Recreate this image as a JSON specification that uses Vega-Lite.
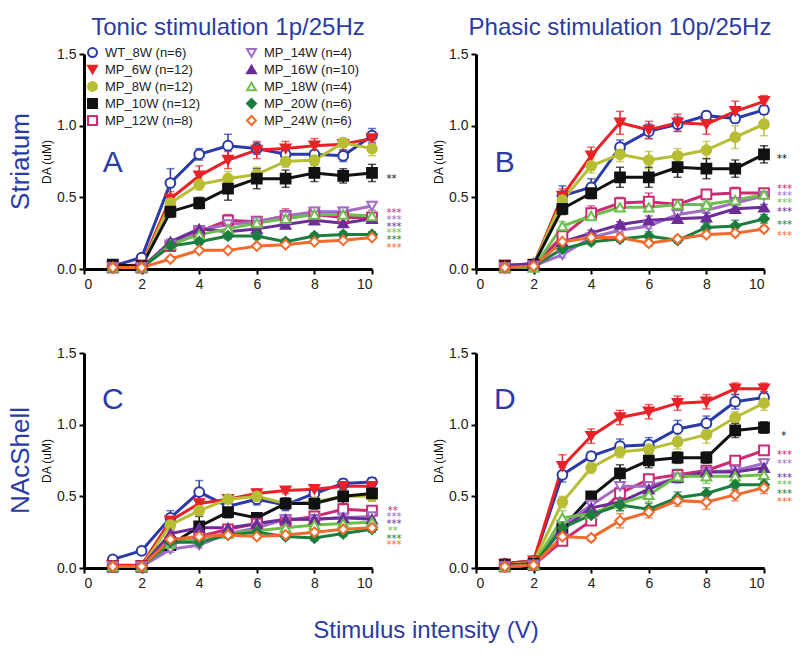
{
  "$schema": "https://vega.github.io/schema/vega-lite/v6.json",
  "background": "white",
  "padding": {"left": 7, "top": 16, "right": 5, "bottom": 5},
  "data": {"values": [
    {"k":"d","r":"S","c":"T","g":"WT_8W (n=6)","x":[1,2,3,4,5,6,7,8,9,10],"y":[0.02,0.08,0.60,0.80,0.86,0.84,0.80,0.80,0.79,0.93],"lo":[0.01,0.06,0.50,0.76,0.78,0.80,0.75,0.74,0.75,0.88],"hi":[0.03,0.10,0.70,0.84,0.94,0.88,0.85,0.86,0.83,0.98]},
    {"k":"d","r":"S","c":"T","g":"MP_6W (n=12)","x":[1,2,3,4,5,6,7,8,9,10],"y":[0.02,0.03,0.49,0.65,0.76,0.83,0.84,0.86,0.87,0.91],"lo":[0.01,0.02,0.44,0.58,0.70,0.77,0.79,0.81,0.83,0.87],"hi":[0.03,0.04,0.54,0.72,0.82,0.89,0.89,0.91,0.91,0.95]},
    {"k":"d","r":"S","c":"T","g":"MP_8W (n=12)","x":[1,2,3,4,5,6,7,8,9,10],"y":[0.01,0.02,0.46,0.59,0.63,0.66,0.75,0.76,0.88,0.84],"lo":[0.00,0.01,0.41,0.55,0.58,0.61,0.71,0.72,0.85,0.79],"hi":[0.02,0.03,0.51,0.63,0.68,0.71,0.79,0.80,0.91,0.89]},
    {"k":"d","r":"S","c":"T","g":"MP_10W (n=12)","x":[1,2,3,4,5,6,7,8,9,10],"y":[0.03,0.02,0.40,0.46,0.56,0.63,0.63,0.67,0.65,0.67],"lo":[0.02,0.01,0.36,0.42,0.48,0.56,0.57,0.61,0.60,0.61],"hi":[0.04,0.03,0.44,0.50,0.64,0.70,0.69,0.73,0.70,0.73]},
    {"k":"d","r":"S","c":"T","g":"MP_12W (n=8)","x":[1,2,3,4,5,6,7,8,9,10],"y":[0.01,0.01,0.16,0.26,0.34,0.33,0.37,0.38,0.36,0.36],"lo":[0.00,0.00,0.14,0.23,0.30,0.30,0.32,0.34,0.33,0.33],"hi":[0.02,0.02,0.18,0.29,0.38,0.36,0.42,0.42,0.39,0.39]},
    {"k":"d","r":"S","c":"T","g":"MP_14W (n=4)","x":[1,2,3,4,5,6,7,8,9,10],"y":[0.01,0.01,0.17,0.27,0.31,0.33,0.37,0.40,0.40,0.44],"lo":[0.00,0.00,0.15,0.24,0.28,0.30,0.34,0.37,0.37,0.41],"hi":[0.02,0.02,0.19,0.30,0.34,0.36,0.40,0.43,0.43,0.47]},
    {"k":"d","r":"S","c":"T","g":"MP_16W (n=10)","x":[1,2,3,4,5,6,7,8,9,10],"y":[0.01,0.01,0.19,0.28,0.26,0.28,0.31,0.34,0.32,0.35],"lo":[0.00,0.00,0.17,0.26,0.24,0.26,0.29,0.32,0.30,0.33],"hi":[0.02,0.02,0.21,0.30,0.28,0.30,0.33,0.36,0.34,0.37]},
    {"k":"d","r":"S","c":"T","g":"MP_18W (n=4)","x":[1,2,3,4,5,6,7,8,9,10],"y":[0.01,0.01,0.17,0.24,0.28,0.32,0.35,0.38,0.38,0.37],"lo":[0.00,0.00,0.15,0.21,0.25,0.29,0.32,0.36,0.36,0.35],"hi":[0.02,0.02,0.19,0.27,0.31,0.35,0.38,0.40,0.40,0.39]},
    {"k":"d","r":"S","c":"T","g":"MP_20W (n=6)","x":[1,2,3,4,5,6,7,8,9,10],"y":[0.01,0.01,0.16,0.19,0.23,0.23,0.19,0.23,0.24,0.24],"lo":[0.00,0.00,0.14,0.17,0.21,0.21,0.17,0.21,0.22,0.22],"hi":[0.02,0.02,0.18,0.21,0.25,0.25,0.21,0.25,0.26,0.26]},
    {"k":"d","r":"S","c":"T","g":"MP_24W (n=6)","x":[1,2,3,4,5,6,7,8,9,10],"y":[0.01,0.01,0.07,0.13,0.13,0.16,0.17,0.19,0.20,0.22],"lo":[0.00,0.00,0.06,0.12,0.12,0.15,0.16,0.18,0.19,0.21],"hi":[0.02,0.02,0.08,0.14,0.14,0.17,0.18,0.20,0.21,0.23]},

    {"k":"d","r":"S","c":"P","g":"WT_8W (n=6)","x":[1,2,3,4,5,6,7,8,9,10],"y":[0.02,0.02,0.51,0.57,0.85,0.96,1.01,1.07,1.05,1.11],"lo":[0.01,0.01,0.44,0.51,0.80,0.91,0.96,1.04,1.02,1.08],"hi":[0.03,0.03,0.58,0.63,0.90,1.01,1.06,1.10,1.08,1.14]},
    {"k":"d","r":"S","c":"P","g":"MP_6W (n=12)","x":[1,2,3,4,5,6,7,8,9,10],"y":[0.03,0.03,0.51,0.79,1.02,0.97,1.02,1.01,1.10,1.17],"lo":[0.02,0.02,0.46,0.73,0.94,0.91,0.96,0.94,1.03,1.13],"hi":[0.04,0.04,0.56,0.85,1.10,1.03,1.08,1.08,1.17,1.21]},
    {"k":"d","r":"S","c":"P","g":"MP_8W (n=12)","x":[1,2,3,4,5,6,7,8,9,10],"y":[0.02,0.03,0.48,0.72,0.80,0.76,0.79,0.83,0.92,1.01],"lo":[0.01,0.02,0.44,0.67,0.75,0.70,0.74,0.77,0.84,0.93],"hi":[0.03,0.04,0.52,0.77,0.85,0.82,0.84,0.89,1.00,1.09]},
    {"k":"d","r":"S","c":"P","g":"MP_10W (n=12)","x":[1,2,3,4,5,6,7,8,9,10],"y":[0.02,0.03,0.42,0.53,0.64,0.64,0.71,0.70,0.70,0.80],"lo":[0.01,0.02,0.38,0.49,0.57,0.57,0.64,0.63,0.64,0.74],"hi":[0.03,0.04,0.46,0.57,0.71,0.71,0.78,0.77,0.76,0.86]},
    {"k":"d","r":"S","c":"P","g":"MP_12W (n=8)","x":[1,2,3,4,5,6,7,8,9,10],"y":[0.01,0.02,0.23,0.39,0.46,0.47,0.45,0.52,0.53,0.53],"lo":[0.00,0.01,0.20,0.34,0.42,0.41,0.42,0.49,0.49,0.50],"hi":[0.02,0.03,0.26,0.44,0.50,0.53,0.48,0.55,0.57,0.56]},
    {"k":"d","r":"S","c":"P","g":"MP_14W (n=4)","x":[1,2,3,4,5,6,7,8,9,10],"y":[0.01,0.02,0.10,0.22,0.27,0.30,0.38,0.41,0.46,0.51],"lo":[0.00,0.01,0.08,0.20,0.25,0.28,0.36,0.39,0.44,0.49],"hi":[0.02,0.03,0.12,0.24,0.29,0.32,0.40,0.43,0.48,0.53]},
    {"k":"d","r":"S","c":"P","g":"MP_16W (n=10)","x":[1,2,3,4,5,6,7,8,9,10],"y":[0.02,0.04,0.19,0.25,0.31,0.34,0.35,0.36,0.42,0.43],"lo":[0.01,0.03,0.17,0.23,0.29,0.31,0.32,0.33,0.39,0.41],"hi":[0.03,0.05,0.21,0.27,0.33,0.37,0.38,0.39,0.45,0.45]},
    {"k":"d","r":"S","c":"P","g":"MP_18W (n=4)","x":[1,2,3,4,5,6,7,8,9,10],"y":[0.01,0.01,0.30,0.37,0.43,0.43,0.45,0.45,0.48,0.52],"lo":[0.00,0.00,0.27,0.35,0.41,0.40,0.43,0.43,0.46,0.50],"hi":[0.02,0.02,0.33,0.39,0.45,0.46,0.47,0.47,0.50,0.54]},
    {"k":"d","r":"S","c":"P","g":"MP_20W (n=6)","x":[1,2,3,4,5,6,7,8,9,10],"y":[0.01,0.02,0.14,0.19,0.21,0.23,0.20,0.29,0.30,0.35],"lo":[0.00,0.01,0.12,0.17,0.19,0.20,0.18,0.26,0.26,0.32],"hi":[0.02,0.03,0.16,0.21,0.23,0.26,0.22,0.32,0.34,0.38]},
    {"k":"d","r":"S","c":"P","g":"MP_24W (n=6)","x":[1,2,3,4,5,6,7,8,9,10],"y":[0.01,0.02,0.19,0.22,0.22,0.18,0.21,0.24,0.25,0.28],"lo":[0.00,0.01,0.17,0.20,0.20,0.16,0.19,0.22,0.23,0.26],"hi":[0.02,0.03,0.21,0.24,0.24,0.20,0.23,0.26,0.27,0.30]},

    {"k":"d","r":"N","c":"T","g":"WT_8W (n=6)","x":[1,2,3,4,5,6,7,8,9,10],"y":[0.06,0.12,0.35,0.53,0.43,0.48,0.44,0.52,0.59,0.60],"lo":[0.05,0.10,0.30,0.45,0.40,0.44,0.40,0.49,0.56,0.57],"hi":[0.07,0.14,0.40,0.61,0.46,0.52,0.48,0.55,0.62,0.63]},
    {"k":"d","r":"N","c":"T","g":"MP_6W (n=12)","x":[1,2,3,4,5,6,7,8,9,10],"y":[0.02,0.02,0.33,0.45,0.48,0.52,0.54,0.55,0.57,0.57],"lo":[0.01,0.01,0.30,0.42,0.45,0.49,0.52,0.53,0.54,0.55],"hi":[0.03,0.03,0.36,0.48,0.51,0.55,0.56,0.57,0.60,0.59]},
    {"k":"d","r":"N","c":"T","g":"MP_8W (n=12)","x":[1,2,3,4,5,6,7,8,9,10],"y":[0.01,0.01,0.30,0.40,0.48,0.50,0.45,0.46,0.50,0.50],"lo":[0.00,0.00,0.27,0.37,0.45,0.47,0.42,0.43,0.47,0.47],"hi":[0.02,0.02,0.33,0.43,0.51,0.53,0.48,0.49,0.53,0.53]},
    {"k":"d","r":"N","c":"T","g":"MP_10W (n=12)","x":[1,2,3,4,5,6,7,8,9,10],"y":[0.01,0.01,0.16,0.29,0.39,0.35,0.45,0.45,0.50,0.52],"lo":[0.00,0.00,0.14,0.22,0.35,0.32,0.41,0.41,0.45,0.47],"hi":[0.02,0.02,0.18,0.36,0.43,0.38,0.49,0.49,0.55,0.57]},
    {"k":"d","r":"N","c":"T","g":"MP_12W (n=8)","x":[1,2,3,4,5,6,7,8,9,10],"y":[0.01,0.01,0.18,0.22,0.27,0.31,0.33,0.36,0.41,0.40],"lo":[0.00,0.00,0.15,0.19,0.24,0.28,0.30,0.33,0.38,0.37],"hi":[0.02,0.02,0.21,0.25,0.30,0.34,0.36,0.39,0.44,0.43]},
    {"k":"d","r":"N","c":"T","g":"MP_14W (n=4)","x":[1,2,3,4,5,6,7,8,9,10],"y":[0.01,0.01,0.13,0.16,0.24,0.28,0.34,0.34,0.35,0.36],"lo":[0.00,0.00,0.11,0.14,0.22,0.26,0.32,0.32,0.33,0.34],"hi":[0.02,0.02,0.15,0.18,0.26,0.30,0.36,0.36,0.37,0.38]},
    {"k":"d","r":"N","c":"T","g":"MP_16W (n=10)","x":[1,2,3,4,5,6,7,8,9,10],"y":[0.01,0.01,0.24,0.28,0.28,0.31,0.34,0.34,0.35,0.34],"lo":[0.00,0.00,0.22,0.26,0.26,0.29,0.32,0.32,0.33,0.32],"hi":[0.02,0.02,0.26,0.30,0.30,0.33,0.36,0.36,0.37,0.36]},
    {"k":"d","r":"N","c":"T","g":"MP_18W (n=4)","x":[1,2,3,4,5,6,7,8,9,10],"y":[0.01,0.01,0.17,0.21,0.24,0.26,0.28,0.30,0.31,0.32],"lo":[0.00,0.00,0.15,0.19,0.22,0.24,0.26,0.28,0.29,0.30],"hi":[0.02,0.02,0.19,0.23,0.26,0.28,0.30,0.32,0.33,0.34]},
    {"k":"d","r":"N","c":"T","g":"MP_20W (n=6)","x":[1,2,3,4,5,6,7,8,9,10],"y":[0.01,0.01,0.18,0.18,0.23,0.25,0.22,0.21,0.24,0.27],"lo":[0.00,0.00,0.16,0.16,0.21,0.23,0.20,0.19,0.22,0.25],"hi":[0.02,0.02,0.20,0.20,0.25,0.27,0.24,0.23,0.26,0.29]},
    {"k":"d","r":"N","c":"T","g":"MP_24W (n=6)","x":[1,2,3,4,5,6,7,8,9,10],"y":[0.01,0.01,0.20,0.22,0.23,0.22,0.23,0.25,0.27,0.28],"lo":[0.00,0.00,0.18,0.20,0.21,0.20,0.21,0.23,0.25,0.26],"hi":[0.02,0.02,0.22,0.24,0.25,0.24,0.25,0.27,0.29,0.30]},

    {"k":"d","r":"N","c":"P","g":"WT_8W (n=6)","x":[1,2,3,4,5,6,7,8,9,10],"y":[0.03,0.05,0.65,0.78,0.85,0.86,0.97,1.01,1.16,1.19],"lo":[0.02,0.04,0.60,0.75,0.80,0.81,0.91,0.96,1.11,1.15],"hi":[0.04,0.06,0.70,0.81,0.90,0.91,1.03,1.06,1.21,1.23]},
    {"k":"d","r":"N","c":"P","g":"MP_6W (n=12)","x":[1,2,3,4,5,6,7,8,9,10],"y":[0.03,0.05,0.71,0.92,1.05,1.09,1.15,1.16,1.25,1.25],"lo":[0.02,0.04,0.63,0.87,1.00,1.04,1.10,1.11,1.21,1.21],"hi":[0.04,0.06,0.79,0.97,1.10,1.14,1.20,1.21,1.29,1.29]},
    {"k":"d","r":"N","c":"P","g":"MP_8W (n=12)","x":[1,2,3,4,5,6,7,8,9,10],"y":[0.02,0.04,0.46,0.70,0.81,0.83,0.88,0.93,1.05,1.15],"lo":[0.01,0.03,0.42,0.66,0.77,0.79,0.83,0.87,1.01,1.10],"hi":[0.03,0.05,0.50,0.74,0.85,0.87,0.93,0.99,1.09,1.20]},
    {"k":"d","r":"N","c":"P","g":"MP_10W (n=12)","x":[1,2,3,4,5,6,7,8,9,10],"y":[0.02,0.03,0.28,0.50,0.66,0.75,0.77,0.77,0.96,0.98],"lo":[0.01,0.02,0.24,0.47,0.60,0.70,0.73,0.73,0.91,0.94],"hi":[0.03,0.04,0.32,0.53,0.72,0.80,0.81,0.81,1.01,1.02]},
    {"k":"d","r":"N","c":"P","g":"MP_12W (n=8)","x":[1,2,3,4,5,6,7,8,9,10],"y":[0.01,0.02,0.19,0.33,0.52,0.62,0.65,0.68,0.75,0.82],"lo":[0.00,0.01,0.16,0.30,0.49,0.59,0.62,0.65,0.72,0.79],"hi":[0.02,0.03,0.22,0.36,0.55,0.65,0.68,0.71,0.78,0.85]},
    {"k":"d","r":"N","c":"P","g":"MP_14W (n=4)","x":[1,2,3,4,5,6,7,8,9,10],"y":[0.01,0.02,0.30,0.44,0.57,0.57,0.63,0.67,0.68,0.73],"lo":[0.00,0.01,0.27,0.41,0.54,0.54,0.60,0.64,0.65,0.70],"hi":[0.02,0.03,0.33,0.47,0.60,0.60,0.66,0.70,0.71,0.76]},
    {"k":"d","r":"N","c":"P","g":"MP_16W (n=10)","x":[1,2,3,4,5,6,7,8,9,10],"y":[0.02,0.03,0.27,0.42,0.46,0.55,0.63,0.67,0.67,0.70],"lo":[0.01,0.02,0.24,0.39,0.43,0.52,0.60,0.64,0.64,0.67],"hi":[0.03,0.04,0.30,0.45,0.49,0.58,0.66,0.70,0.70,0.73]},
    {"k":"d","r":"N","c":"P","g":"MP_18W (n=4)","x":[1,2,3,4,5,6,7,8,9,10],"y":[0.01,0.02,0.35,0.38,0.45,0.51,0.64,0.64,0.64,0.65],"lo":[0.00,0.01,0.30,0.34,0.40,0.46,0.59,0.59,0.60,0.61],"hi":[0.02,0.03,0.40,0.42,0.50,0.56,0.69,0.69,0.68,0.69]},
    {"k":"d","r":"N","c":"P","g":"MP_20W (n=6)","x":[1,2,3,4,5,6,7,8,9,10],"y":[0.01,0.02,0.28,0.37,0.44,0.41,0.49,0.52,0.58,0.58],"lo":[0.00,0.01,0.24,0.33,0.40,0.37,0.45,0.48,0.54,0.54],"hi":[0.02,0.03,0.32,0.41,0.48,0.45,0.53,0.56,0.62,0.62]},
    {"k":"d","r":"N","c":"P","g":"MP_24W (n=6)","x":[1,2,3,4,5,6,7,8,9,10],"y":[0.01,0.02,0.22,0.21,0.33,0.39,0.47,0.46,0.51,0.56],"lo":[0.00,0.01,0.20,0.19,0.28,0.35,0.43,0.41,0.47,0.52],"hi":[0.02,0.03,0.24,0.23,0.38,0.43,0.51,0.51,0.55,0.60]},

    {"k":"l","r":"S","c":"T","x":1.0,"y":0.74,"t":"A"},
    {"k":"l","r":"S","c":"P","x":1.0,"y":0.74,"t":"B"},
    {"k":"l","r":"N","c":"T","x":1.0,"y":1.17,"t":"C"},
    {"k":"l","r":"N","c":"P","x":1.0,"y":1.17,"t":"D"},

    {"k":"s","r":"S","c":"T","g":"MP_10W (n=12)","x":10.5,"y":0.65,"t":"**"},
    {"k":"s","r":"S","c":"T","g":"MP_12W (n=8)","x":10.5,"y":0.41,"t":"***"},
    {"k":"s","r":"S","c":"T","g":"MP_14W (n=4)","x":10.5,"y":0.365,"t":"***"},
    {"k":"s","r":"S","c":"T","g":"MP_16W (n=10)","x":10.5,"y":0.315,"t":"***"},
    {"k":"s","r":"S","c":"T","g":"MP_18W (n=4)","x":10.5,"y":0.27,"t":"***"},
    {"k":"s","r":"S","c":"T","g":"MP_20W (n=6)","x":10.5,"y":0.22,"t":"***"},
    {"k":"s","r":"S","c":"T","g":"MP_24W (n=6)","x":10.5,"y":0.17,"t":"***"},
    {"k":"s","r":"S","c":"P","g":"MP_10W (n=12)","x":10.45,"y":0.79,"t":"**"},
    {"k":"s","r":"S","c":"P","g":"MP_12W (n=8)","x":10.45,"y":0.58,"t":"***"},
    {"k":"s","r":"S","c":"P","g":"MP_14W (n=4)","x":10.45,"y":0.53,"t":"***"},
    {"k":"s","r":"S","c":"P","g":"MP_18W (n=4)","x":10.45,"y":0.48,"t":"***"},
    {"k":"s","r":"S","c":"P","g":"MP_16W (n=10)","x":10.45,"y":0.42,"t":"***"},
    {"k":"s","r":"S","c":"P","g":"MP_20W (n=6)","x":10.45,"y":0.33,"t":"***"},
    {"k":"s","r":"S","c":"P","g":"MP_24W (n=6)","x":10.45,"y":0.25,"t":"***"},
    {"k":"s","r":"N","c":"T","g":"MP_12W (n=8)","x":10.55,"y":0.42,"t":"**"},
    {"k":"s","r":"N","c":"T","g":"MP_14W (n=4)","x":10.5,"y":0.38,"t":"***"},
    {"k":"s","r":"N","c":"T","g":"MP_16W (n=10)","x":10.5,"y":0.33,"t":"***"},
    {"k":"s","r":"N","c":"T","g":"MP_18W (n=4)","x":10.55,"y":0.28,"t":"**"},
    {"k":"s","r":"N","c":"T","g":"MP_20W (n=6)","x":10.5,"y":0.22,"t":"***"},
    {"k":"s","r":"N","c":"T","g":"MP_24W (n=6)","x":10.5,"y":0.18,"t":"***"},
    {"k":"s","r":"N","c":"P","g":"MP_10W (n=12)","x":10.6,"y":0.94,"t":"*"},
    {"k":"s","r":"N","c":"P","g":"MP_12W (n=8)","x":10.45,"y":0.81,"t":"***"},
    {"k":"s","r":"N","c":"P","g":"MP_14W (n=4)","x":10.45,"y":0.75,"t":"***"},
    {"k":"s","r":"N","c":"P","g":"MP_16W (n=10)","x":10.45,"y":0.65,"t":"***"},
    {"k":"s","r":"N","c":"P","g":"MP_18W (n=4)","x":10.45,"y":0.60,"t":"***"},
    {"k":"s","r":"N","c":"P","g":"MP_20W (n=6)","x":10.45,"y":0.54,"t":"***"},
    {"k":"s","r":"N","c":"P","g":"MP_24W (n=6)","x":10.45,"y":0.48,"t":"***"}
  ]},
  "facet": {
    "row": {"field": "r", "type": "nominal", "sort": ["S", "N"], "title": null,
      "header": {"labelExpr": "datum.value == 'S' ? 'Striatum' : 'NAcShell'", "labelAngle": -90, "labelOrient": "left", "labelFont": "Liberation Sans", "labelFontSize": 26, "labelColor": "#2b3ba6", "labelPadding": 37}},
    "column": {"field": "c", "type": "nominal", "sort": ["T", "P"], "title": null,
      "header": {"labelExpr": "datum.value == 'T' ? 'Tonic stimulation 1p/25Hz' : 'Phasic stimulation 10p/25Hz'", "labelFont": "Liberation Sans", "labelFontSize": 24, "labelColor": "#2b3ba6", "labelPadding": 14}}
  },
  "spacing": {"row": 84, "column": 104},
  "bounds": "flush",
  "resolve": {"axis": {"x": "independent", "y": "independent"}},
  "title": {"text": "Stimulus intensity (V)", "orient": "bottom", "anchor": "middle", "font": "Liberation Sans", "fontSize": 24, "fontWeight": "normal", "color": "#2b3ba6", "offset": 29, "dx": 26},
  "spec": {
    "width": 288,
    "height": 215,
    "layer": [
      {
        "transform": [{"filter": "datum.k == 'd'"}, {"flatten": ["x", "y", "lo", "hi"]}],
        "layer": [
          {
            "mark": {"type": "rule", "strokeWidth": 1.5},
            "encoding": {
              "x": {"field": "x", "type": "quantitative", "scale": {"domain": [0, 10], "nice": false}, "axis": {"title": null, "values": [0,1,2,3,4,5,6,7,8,9,10]}},
              "y": {"field": "lo", "type": "quantitative", "scale": {"domain": [0, 1.5], "nice": false}, "axis": {"title": "DA (uM)", "values": [0, 0.5, 1, 1.5], "format": ".1f"}},
              "y2": {"field": "hi"},
              "color": {"field": "g", "type": "nominal", "legend": null,
                "scale": {"domain": ["WT_8W (n=6)","MP_14W (n=4)","MP_6W (n=12)","MP_16W (n=10)","MP_8W (n=12)","MP_18W (n=4)","MP_10W (n=12)","MP_20W (n=6)","MP_12W (n=8)","MP_24W (n=6)"],
                          "range": ["#2a3aa8","#a06cc6","#ea2228","#6b2d98","#b8be34","#6cbf48","#111111","#1b7e3e","#cc2b74","#f26a2c"]}}
            }
          },
          {
            "mark": {"type": "tick", "orient": "horizontal", "size": 8, "thickness": 1.5},
            "encoding": {
              "x": {"field": "x", "type": "quantitative"},
              "y": {"field": "lo", "type": "quantitative"},
              "color": {"field": "g", "type": "nominal", "legend": null}
            }
          },
          {
            "mark": {"type": "tick", "orient": "horizontal", "size": 8, "thickness": 1.5},
            "encoding": {
              "x": {"field": "x", "type": "quantitative"},
              "y": {"field": "hi", "type": "quantitative"},
              "color": {"field": "g", "type": "nominal", "legend": null}
            }
          },
          {
            "mark": {"type": "line", "strokeWidth": 3},
            "encoding": {
              "x": {"field": "x", "type": "quantitative"},
              "y": {"field": "y", "type": "quantitative"},
              "color": {"field": "g", "type": "nominal", "legend": null}
            }
          },
          {
            "mark": {"type": "point", "filled": false, "size": 95, "strokeWidth": 2, "opacity": 1},
            "encoding": {
              "x": {"field": "x", "type": "quantitative"},
              "y": {"field": "y", "type": "quantitative"},
              "stroke": {"field": "g", "type": "nominal",
                "legend": {"orient": "none", "legendX": 2, "legendY": -8, "columns": 2, "title": null},
                "scale": {"domain": ["WT_8W (n=6)","MP_6W (n=12)","MP_8W (n=12)","MP_10W (n=12)","MP_12W (n=8)","MP_14W (n=4)","MP_16W (n=10)","MP_18W (n=4)","MP_20W (n=6)","MP_24W (n=6)"],
                          "range": ["#2a3aa8","#ea2228","#b8be34","#111111","#cc2b74","#a06cc6","#6b2d98","#6cbf48","#1b7e3e","#f26a2c"]}},
              "fill": {"field": "g", "type": "nominal",
                "scale": {"domain": ["WT_8W (n=6)","MP_6W (n=12)","MP_8W (n=12)","MP_10W (n=12)","MP_12W (n=8)","MP_14W (n=4)","MP_16W (n=10)","MP_18W (n=4)","MP_20W (n=6)","MP_24W (n=6)"],
                          "range": ["#ffffff","#ea2228","#b8be34","#111111","#ffffff","#ffffff","#6b2d98","#ffffff","#1b7e3e","#ffffff"]}},
              "shape": {"field": "g", "type": "nominal",
                "scale": {"domain": ["WT_8W (n=6)","MP_6W (n=12)","MP_8W (n=12)","MP_10W (n=12)","MP_12W (n=8)","MP_14W (n=4)","MP_16W (n=10)","MP_18W (n=4)","MP_20W (n=6)","MP_24W (n=6)"],
                          "range": ["circle","triangle-down","circle","square","square","triangle-down","triangle-up","triangle-up","diamond","diamond"]}}
            }
          }
        ]
      },
      {
        "transform": [{"filter": "datum.k == 's'"}],
        "mark": {"type": "text", "align": "left", "baseline": "middle", "dy": 3, "font": "DejaVu Sans", "fontSize": 10},
        "encoding": {
          "x": {"field": "x", "type": "quantitative"},
          "y": {"field": "y", "type": "quantitative"},
          "text": {"field": "t"},
          "color": {"field": "g", "type": "nominal", "legend": null}
        }
      },
      {
        "transform": [{"filter": "datum.k == 'l'"}],
        "mark": {"type": "text", "align": "center", "baseline": "middle", "font": "Liberation Sans", "fontSize": 30, "fill": "#2b3ba6"},
        "encoding": {
          "x": {"field": "x", "type": "quantitative"},
          "y": {"field": "y", "type": "quantitative"},
          "text": {"field": "t"}
        }
      }
    ]
  },
  "config": {
    "view": {"stroke": null},
    "font": "Liberation Sans",
    "axis": {"grid": false, "domainColor": "#000", "domainWidth": 3, "tickColor": "#000", "tickWidth": 2, "tickSize": 5,
      "labelFont": "Liberation Sans", "labelFontSize": 14, "labelColor": "#222", "labelPadding": 3,
      "titleFont": "Liberation Sans", "titleFontSize": 12, "titleFontWeight": "normal", "titleColor": "#111", "titlePadding": 3},
    "legend": {"labelFont": "Liberation Sans", "labelFontSize": 13, "labelColor": "#222",
      "symbolSize": 80, "symbolStrokeWidth": 2, "rowPadding": 0, "columnPadding": 42, "labelLimit": 200, "labelOffset": 6}
  }
}
